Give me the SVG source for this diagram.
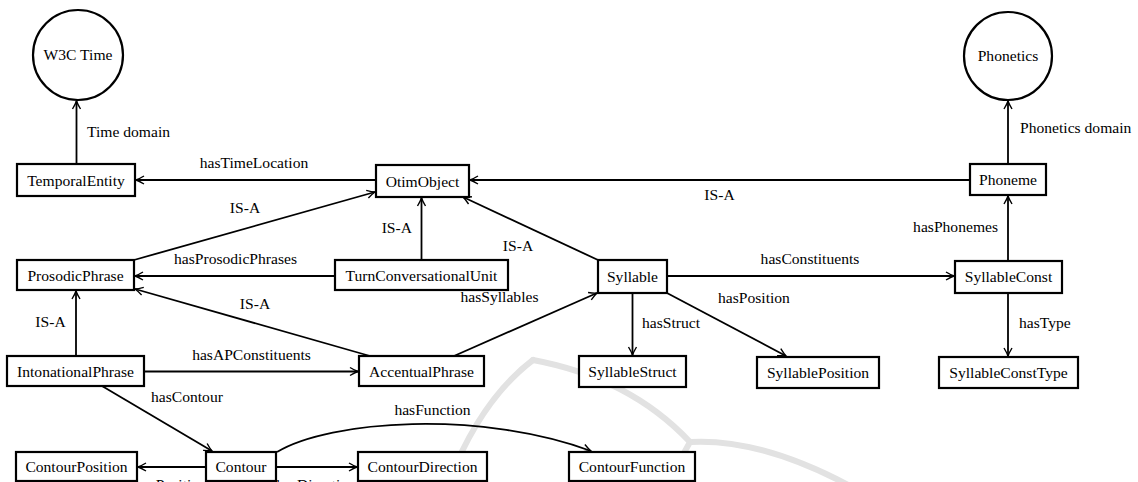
<svg xmlns="http://www.w3.org/2000/svg" width="1138" height="482" viewBox="0 0 1138 482" font-family="'Liberation Serif', 'DejaVu Serif', serif">
<style>
text{font-family:'Liberation Serif','DejaVu Serif',serif;font-size:15.6px;fill:#000}
.n rect,.n circle{fill:#fff;stroke:#000;stroke-width:2.2}
.n text{text-anchor:middle}
.e path{fill:none;stroke:#000;stroke-width:1.8;marker-end:url(#arr)}
.m{text-anchor:middle}
.r{text-anchor:end}
.wm{fill:none;stroke:#e2e2e2;stroke-width:6;stroke-linecap:round}
</style>
<defs>
<marker id="arr" viewBox="-10 -6 12 12" refX="0" refY="0" markerWidth="12" markerHeight="12" markerUnits="userSpaceOnUse" orient="auto">
<path d="M-8,-4 Q-3,-1 0,0 Q-3,1 -8,4" fill="none" stroke="#000" stroke-width="1.4"/>
</marker>
</defs>
<rect width="1138" height="482" fill="#fff"/>
<g id="watermark">
<path class="wm" d="M447,486 Q480,400 533,360"/>
<path class="wm" d="M533,360 Q630,378 690,442"/>
<path class="wm" d="M690,442 Q760,438 850,486"/>
<path class="wm" d="M690,442 Q678,462 672,486"/>
</g>
<g id="connectors" class="e">
<path d="M76.5,164 L76.5,101"/>
<path d="M376,180 L136,180"/>
<path d="M970,180 L470,180"/>
<path d="M1008,164 L1008,101"/>
<path d="M134,260 L375,192"/>
<path d="M421.5,260 L421.5,198"/>
<path d="M598,260 L463,197"/>
<path d="M335,276 L135,276"/>
<path d="M370,356 L135,289"/>
<path d="M76,356 L76,291"/>
<path d="M144,371.5 L358,371.5"/>
<path d="M454,356 L597,293"/>
<path d="M632.5,293 L632.5,355"/>
<path d="M667,293 L786,356"/>
<path d="M667,276 L954,276"/>
<path d="M1008,261 L1008,196"/>
<path d="M1008,293 L1008,356"/>
<path d="M102,386 L212,451"/>
<path d="M206,467 L138,467"/>
<path d="M276,467 L357,467"/>
<path d="M277,452 C330,420 480,410 591,451"/>
</g>
<g id="edge-labels">
<text x="87" y="137">Time domain</text>
<text class="m" x="254" y="168">hasTimeLocation</text>
<text class="m" x="719.5" y="200">IS-A</text>
<text x="1020" y="133">Phonetics domain</text>
<text class="m" x="245" y="213">IS-A</text>
<text class="r" x="412" y="233">IS-A</text>
<text class="m" x="518" y="251">IS-A</text>
<text class="m" x="235.5" y="264">hasProsodicPhrases</text>
<text class="m" x="255" y="309">IS-A</text>
<text class="m" x="50.5" y="327">IS-A</text>
<text class="m" x="251.5" y="360">hasAPConstituents</text>
<text class="m" x="499.5" y="302">hasSyllables</text>
<text x="642" y="328">hasStruct</text>
<text x="718" y="303">hasPosition</text>
<text class="m" x="810" y="264">hasConstituents</text>
<text class="r" x="998" y="232">hasPhonemes</text>
<text x="1019" y="328">hasType</text>
<text x="151" y="402">hasContour</text>
<text class="m" x="171" y="490">hasPosition</text>
<text class="m" x="316" y="490">hasDirection</text>
<text class="m" x="432.5" y="415">hasFunction</text>
</g>
<g id="w3ctime" class="n"><circle cx="78" cy="55" r="45"/><text x="78" y="60">W3C Time</text></g>
<g id="phonetics" class="n"><circle cx="1008" cy="56" r="44"/><text x="1008" y="61">Phonetics</text></g>
<g id="temporalentity" class="n"><rect x="17" y="164" width="118" height="32"/><text x="76" y="185.5">TemporalEntity</text></g>
<g id="otimobject" class="n"><rect x="376" y="165" width="93" height="32"/><text x="422.5" y="186.5">OtimObject</text></g>
<g id="phoneme" class="n"><rect x="970" y="164" width="76" height="31"/><text x="1008" y="185">Phoneme</text></g>
<g id="prosodicphrase" class="n"><rect x="17" y="260" width="117" height="30"/><text x="75.5" y="280.5">ProsodicPhrase</text></g>
<g id="turnconversationalunit" class="n"><rect x="335" y="260" width="173" height="30"/><text x="421.5" y="280.5">TurnConversationalUnit</text></g>
<g id="syllable" class="n"><rect x="598" y="260" width="69" height="33"/><text x="632.5" y="281.5">Syllable</text></g>
<g id="syllableconst" class="n"><rect x="955" y="261" width="107" height="32"/><text x="1008.5" y="282">SyllableConst</text></g>
<g id="intonationalphrase" class="n"><rect x="7" y="356" width="137" height="30"/><text x="75.5" y="376.5">IntonationalPhrase</text></g>
<g id="accentualphrase" class="n"><rect x="359" y="356" width="125" height="30"/><text x="421.5" y="376.5">AccentualPhrase</text></g>
<g id="syllablestruct" class="n"><rect x="579" y="356" width="107" height="31"/><text x="632.5" y="377">SyllableStruct</text></g>
<g id="syllableposition" class="n"><rect x="757" y="357" width="122" height="31"/><text x="818" y="378">SyllablePosition</text></g>
<g id="syllableconsttype" class="n"><rect x="939" y="357" width="139" height="31"/><text x="1008.5" y="378">SyllableConstType</text></g>
<g id="contourposition" class="n"><rect x="16" y="452" width="121" height="29"/><text x="76.5" y="472">ContourPosition</text></g>
<g id="contour" class="n"><rect x="206" y="452" width="70" height="29"/><text x="241" y="472">Contour</text></g>
<g id="contourdirection" class="n"><rect x="358" y="452" width="129" height="29"/><text x="422.5" y="472">ContourDirection</text></g>
<g id="contourfunction" class="n"><rect x="569" y="452" width="126" height="29"/><text x="632" y="472">ContourFunction</text></g>
</svg>
